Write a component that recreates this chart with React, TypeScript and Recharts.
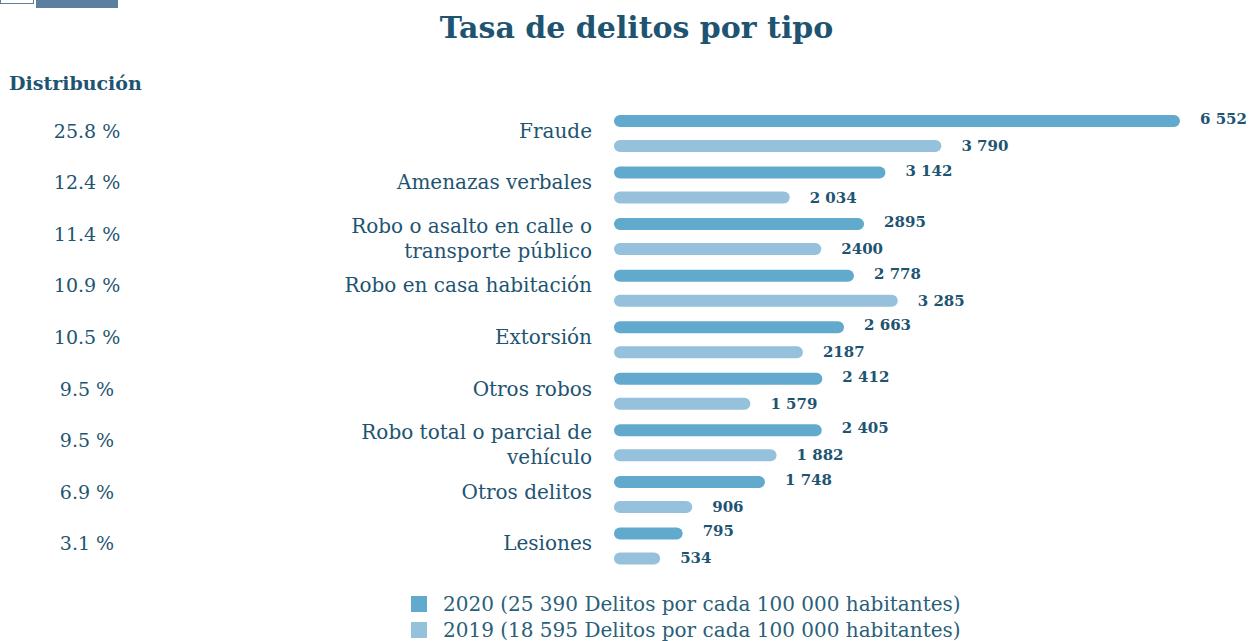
import React from "react";
import { BarChart, Bar, XAxis, YAxis, Legend, LabelList } from "recharts";

const categories = [
  "Fraude",
  "Amenazas verbales",
  "Robo o asalto en calle o\ntransporte público",
  "Robo en casa habitación",
  "Extorsión",
  "Otros robos",
  "Robo total o parcial de\nvehículo",
  "Otros delitos",
  "Lesiones",
];
const shares = ["25.8 %", "12.4 %", "11.4 %", "10.9 %", "10.5 %", "9.5 %", "9.5 %", "6.9 %", "3.1 %"];
const values2020 = [6552, 3142, 2895, 2778, 2663, 2412, 2405, 1748, 795];
const values2019 = [3790, 2034, 2400, 3285, 2187, 1579, 1882, 906, 534];
const labels2020 = ["6 552", "3 142", "2895", "2 778", "2 663", "2 412", "2 405", "1 748", "795"];
const labels2019 = ["3 790", "2 034", "2400", "3 285", "2187", "1 579", "1 882", "906", "534"];
const legendNames = [
  "2020 (25 390 Delitos por cada 100 000 habitantes)",
  "2019 (18 595 Delitos por cada 100 000 habitantes)",
];

const DARK = "#1e5471";
const C2020 = "#62aacd";
const C2019 = "#95c1dc";
const FONT = "'DejaVu Serif', serif";

const data = categories.map((name, i) => ({
  name,
  share: shares[i],
  v2020: values2020[i],
  v2019: values2019[i],
  l2020: labels2020[i],
  l2019: labels2019[i],
}));

const CategoryTick = (props: any) => {
  const { y, payload, index } = props;
  const lines = String(payload.value).split("\n");
  const startY = lines.length > 1 ? y - 11 : y - 3;
  return (
    <g>
      <text x={87} y={y - 3} textAnchor="middle" dominantBaseline="central" fill={DARK} fontSize={19} fontFamily={FONT}>
        {shares[index]}
      </text>
      {lines.map((ln, k) => (
        <text key={k} x={592} y={startY + k * 25} textAnchor="end" dominantBaseline="central" fill={DARK} fontSize={20} fontFamily={FONT}>
          {ln}
        </text>
      ))}
    </g>
  );
};

const ValueLabel = (dataKey: string) => (props: any) => {
  const { x, y, width, height, index } = props;
  const txt = dataKey === "v2020" ? labels2020[index] : labels2019[index];
  return (
    <text x={x + width + 20} y={y + height / 2 - (dataKey === "v2020" ? 2 : 0)} dominantBaseline="central" fill={DARK} fontSize={15} fontWeight="bold" fontFamily={FONT}>
      {txt}
    </text>
  );
};

const LegendContent = () => (
  <div style={{ fontFamily: FONT, fontSize: 20, color: "#2b5f79" }}>
    {legendNames.map((n, i) => (
      <div key={n} style={{ display: "flex", alignItems: "center", height: 26 }}>
        <span style={{ display: "inline-block", width: 16, height: 16, background: i === 0 ? C2020 : C2019, marginRight: 16 }} />
        <span>{n}</span>
      </div>
    ))}
  </div>
);

export default function App() {
  return (
    <div style={{ position: "absolute", left: 0, top: 0, width: 1257, height: 641, background: "#fff", overflow: "hidden" }}>
      <div style={{ position: "absolute", left: 0, top: -2, width: 34, height: 6, border: "1px solid #5b7f9e", boxSizing: "border-box" }} />
      <div style={{ position: "absolute", left: 36, top: 0, width: 82, height: 8, background: "#5b7f9e" }} />
      <div style={{ position: "absolute", left: 8, top: 8, width: 1257, textAlign: "center", fontFamily: FONT, fontWeight: "bold", fontSize: 30, color: DARK, lineHeight: "40px" }}>
        Tasa de delitos por tipo
      </div>
      <div style={{ position: "absolute", left: 9, top: 70, fontFamily: FONT, fontWeight: "bold", fontSize: 19, color: DARK, lineHeight: "26px" }}>
        Distribución
      </div>
      <BarChart
        width={1257}
        height={641}
        data={data}
        layout="vertical"
        margin={{ top: 108, right: 34, bottom: 17, left: 0 }}
        barSize={12}
        barGap={13}
      >
        <XAxis type="number" domain={[0, 7050]} hide />
        <YAxis type="category" dataKey="name" width={614} axisLine={false} tickLine={false} tick={<CategoryTick />} interval={0} />
        <Bar dataKey="v2020" fill={C2020} radius={6} isAnimationActive={false}>
          <LabelList dataKey="l2020" content={ValueLabel("v2020")} />
        </Bar>
        <Bar dataKey="v2019" fill={C2019} radius={6} isAnimationActive={false}>
          <LabelList dataKey="l2019" content={ValueLabel("v2019")} />
        </Bar>
        <Legend content={<LegendContent />} wrapperStyle={{ position: "absolute", left: 411, top: 591, width: 700, bottom: "auto" }} />
      </BarChart>
    </div>
  );
}
